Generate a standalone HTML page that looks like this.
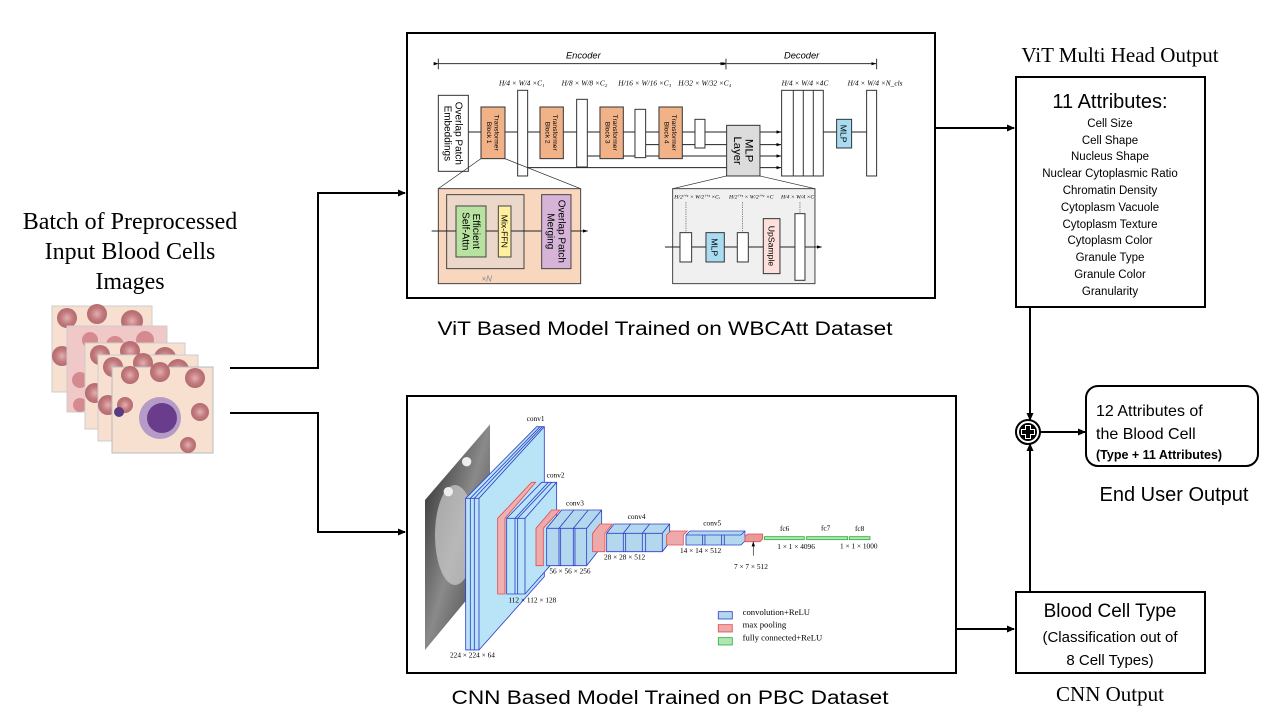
<!DOCTYPE html>
<html><head><meta charset="utf-8"><style>
html,body{margin:0;padding:0;background:#fff;}
svg{display:block;}
.s{font-family:"Liberation Sans",sans-serif;}
.r{font-family:"Liberation Serif",serif;}
</style></head><body>
<svg width="1280" height="720" viewBox="0 0 1280 720" xmlns="http://www.w3.org/2000/svg">
<defs>
<marker id="ah" markerWidth="8" markerHeight="8" refX="7" refY="4" orient="auto" markerUnits="userSpaceOnUse"><path d="M0,0.5 L8,4 L0,7.5 z" fill="#000"/></marker>
<marker id="sa" markerWidth="16" markerHeight="16" refX="14" refY="8" orient="auto" markerUnits="userSpaceOnUse"><path d="M0,3 L15,8 L0,13 z" fill="#000"/></marker>
<linearGradient id="gimg" x1="0" y1="0" x2="1" y2="1"><stop offset="0" stop-color="#222"/><stop offset="0.5" stop-color="#8a8a8a"/><stop offset="1" stop-color="#333"/></linearGradient>
<radialGradient id="rbc"><stop offset="0" stop-color="#e2b0b0"/><stop offset="0.6" stop-color="#c27a7e"/><stop offset="1" stop-color="#b46a70"/></radialGradient>
<g id="cell">
<rect x="0" y="0" width="100" height="86" fill="#f7e0cf" stroke="#ccc" stroke-width="1"/>
<circle cx="15" cy="12" r="10" fill="url(#rbc)"/><circle cx="45" cy="8" r="10" fill="url(#rbc)"/><circle cx="80" cy="15" r="11" fill="url(#rbc)"/>
<circle cx="10" cy="50" r="10" fill="url(#rbc)"/><circle cx="88" cy="55" r="10" fill="url(#rbc)"/><circle cx="30" cy="78" r="9" fill="url(#rbc)"/><circle cx="75" cy="82" r="9" fill="url(#rbc)"/>
</g>
</defs>

<!-- left text -->
<g class="r" font-size="24" text-anchor="middle" fill="#000">
<text x="130" y="229">Batch of Preprocessed</text>
<text x="130" y="259">Input Blood Cells</text>
<text x="130" y="289">Images</text>
</g>
<!-- images -->
<use href="#cell" x="52" y="306"/>
<g><rect x="67" y="326" width="100" height="86" fill="#f0c8c8" stroke="#ccc"/><circle cx="90" cy="340" r="8" fill="#d58a90"/><circle cx="115" cy="345" r="9" fill="#d58a90"/><circle cx="145" cy="340" r="9" fill="#d58a90"/><circle cx="80" cy="380" r="8" fill="#d58a90"/><circle cx="80" cy="405" r="7" fill="#d58a90"/></g>
<use href="#cell" x="85" y="343"/>
<use href="#cell" x="98" y="355"/>
<g><rect x="112" y="367" width="101" height="86" fill="#f7e0cf" stroke="#bbb"/>
<circle cx="130" cy="375" r="9" fill="url(#rbc)"/><circle cx="160" cy="372" r="10" fill="url(#rbc)"/><circle cx="195" cy="378" r="10" fill="url(#rbc)"/><circle cx="125" cy="405" r="8" fill="url(#rbc)"/><circle cx="200" cy="412" r="9" fill="url(#rbc)"/><circle cx="188" cy="445" r="8" fill="url(#rbc)"/>
<circle cx="160" cy="418" r="21" fill="#b69ac8"/><circle cx="162" cy="418" r="15" fill="#6a3c8c"/><circle cx="119" cy="412" r="5" fill="#5a3a80"/></g>

<!-- left connectors -->
<polyline points="230,368 318,368 318,193 405,193" fill="none" stroke="#000" stroke-width="2" marker-end="url(#ah)"/>
<polyline points="230,413 318,413 318,532 405,532" fill="none" stroke="#000" stroke-width="2" marker-end="url(#ah)"/>

<!-- ViT box -->
<rect x="407" y="33" width="528" height="265" fill="#fff" stroke="#000" stroke-width="2"/>
<g transform="translate(405,32) scale(0.3333)" font-family="Liberation Sans,sans-serif">
<line x1="100" y1="95" x2="960" y2="95" stroke="#333" stroke-width="3" marker-start="url(#sa)" marker-end="url(#sa)"/>
<line x1="966" y1="95" x2="1413" y2="95" stroke="#333" stroke-width="3" marker-start="url(#sa)" marker-end="url(#sa)"/>
<line x1="100" y1="80" x2="100" y2="112" stroke="#333" stroke-width="3"/><line x1="963" y1="80" x2="963" y2="112" stroke="#333" stroke-width="3"/><line x1="1415" y1="80" x2="1415" y2="112" stroke="#333" stroke-width="3"/>
<text x="535" y="80" font-size="28" font-style="italic" text-anchor="middle">Encoder</text>
<text x="1190" y="80" font-size="28" font-style="italic" text-anchor="middle">Decoder</text>
<g font-family="Liberation Serif,serif" font-size="22" font-style="italic">
<text x="282" y="160">H/4 × W/4 ×C₁</text>
<text x="470" y="160">H/8 × W/8 ×C₂</text>
<text x="640" y="160">H/16 × W/16 ×C₃</text>
<text x="820" y="160">H/32 × W/32 ×C₄</text>
<text x="1130" y="160">H/4 × W/4 ×4C</text>
<text x="1328" y="160">H/4 × W/4 ×N_cls</text>
</g>
<g stroke="#222" stroke-width="3" fill="none">
<line x1="190" y1="300" x2="1130" y2="300"/>
<line x1="722" y1="338" x2="965" y2="338"/>
<line x1="547" y1="372" x2="965" y2="372"/>
<line x1="368" y1="407" x2="965" y2="407"/>
<line x1="1065" y1="338" x2="1128" y2="338" marker-end="url(#sa)"/>
<line x1="1065" y1="372" x2="1128" y2="372" marker-end="url(#sa)"/>
<line x1="1065" y1="407" x2="1128" y2="407" marker-end="url(#sa)"/>
<line x1="1065" y1="300" x2="1128" y2="300" marker-end="url(#sa)"/>
<line x1="1255" y1="300" x2="1385" y2="300"/>
</g>
<g stroke="#333" stroke-width="3">
<rect x="100" y="190" width="90" height="228" fill="#fff"/>
<rect x="228" y="225" width="72" height="155" fill="#f2b287"/>
<rect x="338" y="175" width="30" height="257" fill="#fff"/>
<rect x="405" y="225" width="70" height="155" fill="#f2b287"/>
<rect x="515" y="202" width="32" height="203" fill="#fff"/>
<rect x="585" y="225" width="70" height="155" fill="#f2b287"/>
<rect x="690" y="232" width="32" height="145" fill="#fff"/>
<rect x="762" y="225" width="70" height="155" fill="#f2b287"/>
<rect x="870" y="262" width="30" height="86" fill="#fff"/>
<rect x="965" y="280" width="100" height="152" fill="#dcdcdc"/>
<rect x="1130" y="175" width="125" height="257" fill="#fff"/>
<line x1="1165" y1="175" x2="1165" y2="432"/><line x1="1195" y1="175" x2="1195" y2="432"/><line x1="1225" y1="175" x2="1225" y2="432"/>
<rect x="1295" y="262" width="45" height="86" fill="#a9dcf1"/>
<rect x="1385" y="175" width="30" height="257" fill="#fff"/>
</g>
<g font-size="30" text-anchor="middle">
<text transform="translate(145,304) rotate(90)" dy="-6">Overlap Patch</text>
<text transform="translate(145,304) rotate(90)" dy="26">Embeddings</text>
<g font-size="20"><text transform="translate(264,302) rotate(90)" dy="-4">Transformer</text><text transform="translate(264,302) rotate(90)" dy="18">Block 1</text>
<text transform="translate(440,302) rotate(90)" dy="-4">Transformer</text><text transform="translate(440,302) rotate(90)" dy="18">Block 2</text>
<text transform="translate(620,302) rotate(90)" dy="-4">Transformer</text><text transform="translate(620,302) rotate(90)" dy="18">Block 3</text>
<text transform="translate(797,302) rotate(90)" dy="-4">Transformer</text><text transform="translate(797,302) rotate(90)" dy="18">Block 4</text></g>
<text transform="translate(1015,356) rotate(90)" dy="-6" font-size="34">MLP</text>
<text transform="translate(1015,356) rotate(90)" dy="28" font-size="34">Layer</text>
<text transform="translate(1317,305) rotate(90)" dy="10" font-size="26">MLP</text>
</g>
<g stroke="#222" stroke-width="2"><line x1="228" y1="380" x2="100" y2="470"/><line x1="300" y1="380" x2="527" y2="470"/>
<line x1="965" y1="432" x2="803" y2="470"/><line x1="1065" y1="432" x2="1230" y2="470"/></g>
<rect x="100" y="470" width="427" height="285" fill="#f9d7bf" stroke="#444" stroke-width="3"/>
<rect x="125" y="488" width="232" height="222" fill="#ecd8cb" stroke="#444" stroke-width="3"/>
<line x1="80" y1="597" x2="548" y2="597" stroke="#222" stroke-width="3" marker-end="url(#sa)"/>
<rect x="153" y="522" width="90" height="153" fill="#b8e2a0" stroke="#444" stroke-width="3"/>
<rect x="280" y="522" width="38" height="153" fill="#fff0a0" stroke="#444" stroke-width="3"/>
<rect x="410" y="488" width="88" height="222" fill="#d6b4d8" stroke="#444" stroke-width="3"/>
<g font-size="30" text-anchor="middle">
<text transform="translate(198,598) rotate(90)" dy="-6">Efficient</text><text transform="translate(198,598) rotate(90)" dy="26">Self-Attn</text>
<text transform="translate(299,598) rotate(90)" dy="10" font-size="26">Mix-FFN</text>
<text transform="translate(454,598) rotate(90)" dy="-6">Overlap Patch</text><text transform="translate(454,598) rotate(90)" dy="26">Merging</text>
</g>
<text x="245" y="748" font-size="24" fill="#888" font-style="italic" text-anchor="middle">×N</text>
<rect x="803" y="470" width="427" height="285" fill="#f0f0f0" stroke="#444" stroke-width="3"/>
<line x1="780" y1="645" x2="1250" y2="645" stroke="#222" stroke-width="3" marker-end="url(#sa)"/>
<g stroke="#555" stroke-width="2" stroke-dasharray="4,3"><line x1="843" y1="510" x2="843" y2="602"/><line x1="1013" y1="510" x2="1013" y2="602"/><line x1="1185" y1="510" x2="1185" y2="545"/></g>
<g stroke="#333" stroke-width="3">
<rect x="825" y="602" width="35" height="88" fill="#fff"/>
<rect x="903" y="602" width="55" height="88" fill="#a9dcf1"/>
<rect x="997" y="602" width="33" height="88" fill="#fff"/>
<rect x="1075" y="560" width="50" height="165" fill="#fde0dc"/>
<rect x="1170" y="545" width="30" height="200" fill="#fff"/>
</g>
<text transform="translate(930,646) rotate(90)" dy="10" font-size="26" text-anchor="middle">MLP</text>
<text transform="translate(1100,642) rotate(90)" dy="10" font-size="26" text-anchor="middle">UpSample</text>
<g font-family="Liberation Serif,serif" font-size="17" font-style="italic">
<text x="808" y="500">H/2ⁱ⁺¹ × W/2ⁱ⁺¹ ×Cᵢ</text><text x="972" y="500">H/2ⁱ⁺¹ × W/2ⁱ⁺¹ ×C</text><text x="1128" y="500">H/4 × W/4 ×C</text>
</g>
</g>
<text x="665" y="335" class="s" font-size="19" text-anchor="middle" textLength="455" lengthAdjust="spacingAndGlyphs">ViT Based Model Trained on WBCAtt Dataset</text>

<!-- CNN box -->
<rect x="407" y="396" width="549" height="277" fill="#fff" stroke="#000" stroke-width="2"/>
<g transform="translate(405,395) scale(0.3333)" font-family="Liberation Serif,serif" font-size="22">
<polygon points="60,315 255,88 255,530 60,765" fill="url(#gimg)"/>
<ellipse cx="150" cy="420" rx="60" ry="150" fill="#ccc" opacity="0.7"/>
<circle cx="185" cy="200" r="14" fill="#eee"/><circle cx="130" cy="290" r="14" fill="#eee"/>
<g stroke="#3040c8" stroke-width="2.5" fill="#b9e3f7">
<polygon points="182,310 395,95 418,95 418,545 222,765 182,765"/>
<line x1="196" y1="310" x2="196" y2="765"/><line x1="208" y1="310" x2="208" y2="765"/><line x1="222" y1="310" x2="222" y2="765"/>
<line x1="182" y1="310" x2="222" y2="310"/><line x1="196" y1="310" x2="405" y2="95"/><line x1="208" y1="310" x2="412" y2="95"/><line x1="222" y1="310" x2="418" y2="95"/>
</g>
<polygon points="278,370 380,262 392,262 300,370 300,597 278,597" fill="#f0b0b0" stroke="#e05050" stroke-width="2.5"/>
<g stroke="#3040c8" stroke-width="2.5" fill="#b9e3f7">
<polygon points="305,370 410,262 455,262 455,490 360,597 305,597"/>
<line x1="330" y1="370" x2="330" y2="597"/><line x1="338" y1="370" x2="338" y2="597"/><line x1="360" y1="370" x2="360" y2="597"/>
<line x1="305" y1="370" x2="360" y2="370"/><line x1="330" y1="370" x2="430" y2="262"/><line x1="338" y1="370" x2="440" y2="262"/><line x1="360" y1="370" x2="455" y2="262"/>
</g>
<polygon points="393,400 440,345 465,345 415,400 415,512 393,512" fill="#eeaaaa" stroke="#e05050" stroke-width="2.5"/>
<g stroke="#3040c8" stroke-width="2.5" fill="#b3d8ee">
<polygon points="425,400 470,345 590,345 590,455 545,512 425,512"/>
<line x1="462" y1="400" x2="462" y2="512"/><line x1="467" y1="400" x2="467" y2="512"/><line x1="505" y1="400" x2="505" y2="512"/><line x1="510" y1="400" x2="510" y2="512"/><line x1="545" y1="400" x2="545" y2="512"/>
<line x1="425" y1="400" x2="545" y2="400"/><line x1="545" y1="400" x2="590" y2="345"/><line x1="505" y1="400" x2="550" y2="345"/><line x1="462" y1="400" x2="507" y2="345"/>
</g>
<polygon points="563,415 585,387 622,387 600,415 600,470 563,470" fill="#eeaaaa" stroke="#e05050" stroke-width="2.5"/>
<g stroke="#3040c8" stroke-width="2.5" fill="#b3d8ee">
<polygon points="605,415 627,387 794,387 794,442 772,470 605,470"/>
<line x1="655" y1="415" x2="655" y2="470"/><line x1="662" y1="415" x2="662" y2="470"/><line x1="712" y1="415" x2="712" y2="470"/><line x1="722" y1="415" x2="722" y2="470"/><line x1="772" y1="415" x2="772" y2="470"/>
<line x1="605" y1="415" x2="772" y2="415"/><line x1="772" y1="415" x2="794" y2="387"/><line x1="712" y1="415" x2="734" y2="387"/><line x1="655" y1="415" x2="677" y2="387"/>
</g>
<polygon points="785,420 797,408 847,408 835,420 835,450 785,450" fill="#eeaaaa" stroke="#e05050" stroke-width="2.5"/>
<g stroke="#3040c8" stroke-width="2.5" fill="#b3d8ee">
<polygon points="843,420 855,408 1020,408 1020,438 1008,450 843,450"/>
<line x1="893" y1="420" x2="893" y2="450"/><line x1="900" y1="420" x2="900" y2="450"/><line x1="950" y1="420" x2="950" y2="450"/><line x1="958" y1="420" x2="958" y2="450"/>
<line x1="843" y1="420" x2="1008" y2="420"/><line x1="1008" y1="420" x2="1020" y2="408"/>
</g>
<polygon points="1020,425 1028,417 1073,417 1073,432 1065,440 1020,440" fill="#e69a9a" stroke="#e05050" stroke-width="2.5"/>
<g stroke="#30b040" stroke-width="2.5" fill="#b0e6b0">
<rect x="1078" y="425" width="120" height="9"/><rect x="1205" y="425" width="123" height="9"/><rect x="1333" y="425" width="62" height="9"/>
</g>
<line x1="1045" y1="482" x2="1045" y2="440" stroke="#222" stroke-width="2" marker-end="url(#sa)"/>
<text x="365" y="78">conv1</text><text x="425" y="248">conv2</text><text x="483" y="332">conv3</text><text x="668" y="372">conv4</text><text x="895" y="392">conv5</text>
<text x="1125" y="408">fc6</text><text x="1248" y="406">fc7</text><text x="1350" y="408">fc8</text>
<text x="135" y="788">224 × 224 × 64</text><text x="310" y="622">112 × 112 × 128</text><text x="433" y="535">56 × 56 × 256</text>
<text x="597" y="494">28 × 28 × 512</text><text x="825" y="474">14 × 14 × 512</text><text x="987" y="522">7 × 7 × 512</text>
<text x="1117" y="462">1 × 1 × 4096</text><text x="1305" y="460">1 × 1 × 1000</text>
<rect x="940" y="650" width="42" height="22" fill="#b3d8ee" stroke="#3040c8" stroke-width="2.5"/>
<rect x="940" y="689" width="42" height="22" fill="#eeaaaa" stroke="#e05050" stroke-width="2.5"/>
<rect x="940" y="728" width="42" height="22" fill="#b0e6b0" stroke="#30b040" stroke-width="2.5"/>
<g font-size="26"><text x="1013" y="660">convolution+ReLU</text><text x="1013" y="698">max  pooling</text><text x="1013" y="737">fully  connected+ReLU</text></g>
</g>
<text x="670" y="704" class="s" font-size="19" text-anchor="middle" textLength="437" lengthAdjust="spacingAndGlyphs">CNN Based Model Trained on PBC Dataset</text>

<!-- right side -->
<line x1="935" y1="128" x2="1014" y2="128" stroke="#000" stroke-width="2" marker-end="url(#ah)"/>
<line x1="956" y1="629" x2="1014" y2="629" stroke="#000" stroke-width="2" marker-end="url(#ah)"/>
<text x="1120" y="62" class="r" font-size="21" text-anchor="middle">ViT Multi Head Output</text>
<rect x="1016" y="77" width="189" height="230" fill="#fff" stroke="#000" stroke-width="2"/>
<text x="1110" y="108" class="s" font-size="20" text-anchor="middle">11 Attributes:</text>
<g class="s" font-size="11.5" text-anchor="middle">
<text x="1110" y="127">Cell Size</text><text x="1110" y="144">Cell Shape</text><text x="1110" y="160">Nucleus Shape</text>
<text x="1110" y="177">Nuclear Cytoplasmic Ratio</text><text x="1110" y="194">Chromatin Density</text><text x="1110" y="211">Cytoplasm Vacuole</text>
<text x="1110" y="228">Cytoplasm Texture</text><text x="1110" y="244">Cytoplasm Color</text><text x="1110" y="261">Granule Type</text>
<text x="1110" y="278">Granule Color</text><text x="1110" y="295">Granularity</text>
</g>
<line x1="1030" y1="307" x2="1030" y2="420" stroke="#000" stroke-width="2" marker-end="url(#ah)"/>
<line x1="1030" y1="592" x2="1030" y2="444" stroke="#000" stroke-width="2" marker-end="url(#ah)"/>
<circle cx="1028" cy="432" r="12" fill="#fff" stroke="#000" stroke-width="2"/>
<circle cx="1028" cy="432" r="9" fill="#000"/>
<path d="M1025,425h6v4h4v6h-4v4h-6v-4h-4v-6h4z" fill="#fff"/>
<path d="M1026,426h4v4h4v4h-4v4h-4v-4h-4v-4h4z" fill="#000"/>
<line x1="1040" y1="432" x2="1085" y2="432" stroke="#000" stroke-width="2" marker-end="url(#ah)"/>
<rect x="1086" y="386" width="172" height="80" rx="12" fill="#fff" stroke="#000" stroke-width="2"/>
<g class="s"><text x="1096" y="416" font-size="16">12 Attributes of</text><text x="1096" y="439" font-size="16">the Blood Cell</text>
<text x="1096" y="459" font-size="12.5" font-weight="bold">(Type + 11 Attributes)</text></g>
<text x="1174" y="501" class="s" font-size="20" text-anchor="middle">End User Output</text>
<rect x="1016" y="592" width="189" height="81" fill="#fff" stroke="#000" stroke-width="2"/>
<g class="s" text-anchor="middle"><text x="1110" y="617" font-size="19">Blood Cell Type</text>
<text x="1110" y="642" font-size="15">(Classification out of</text><text x="1110" y="665" font-size="15">8 Cell Types)</text></g>
<text x="1110" y="701" class="r" font-size="21" text-anchor="middle">CNN Output</text>
</svg>
</body></html>
